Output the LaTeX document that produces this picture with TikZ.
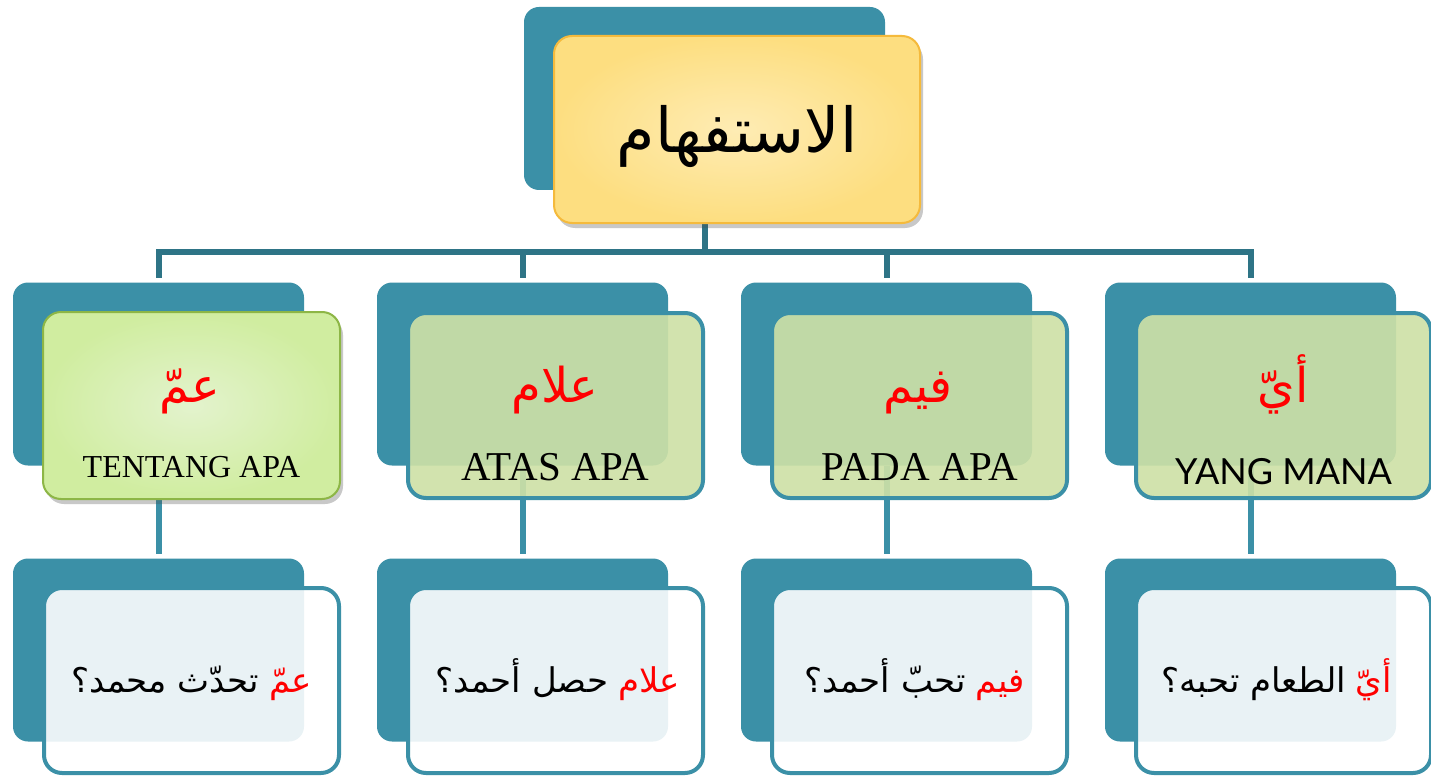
\documentclass[tikz,border=0pt]{standalone}
\usepackage{fontspec}
\setmainfont{Liberation Serif}
\newfontfamily\arabicfont[Script=Arabic]{DejaVu Sans}
\newfontfamily\latofont{Lato}
\TeXXeTstate=1
\usetikzlibrary{shadows,backgrounds}
\definecolor{tealc}{RGB}{59,144,167}
\definecolor{tealdark}{RGB}{46,116,134}
\definecolor{greenfill}{RGB}{206,225,166}
\definecolor{yelin}{RGB}{254,236,180}
\definecolor{yelout}{RGB}{253,222,128}
\definecolor{yelborder}{RGB}{245,186,60}
\definecolor{grin}{RGB}{227,243,205}
\definecolor{grout}{RGB}{208,237,160}
\definecolor{grborder}{RGB}{141,182,70}
\newcommand\arfs[1]{\arabicfont\fontsize{#1}{#1}\selectfont}
\newcommand\sefs[1]{\fontsize{#1}{#1}\selectfont}
\begin{document}
\begin{tikzpicture}[x=1pt,y=-1pt,
  backbox/.style={fill=tealc, draw=none, rounded corners=15pt, minimum width=291pt, minimum height=183pt, inner sep=0pt, outer sep=0pt},
  frontgreen/.style={draw=tealc, line width=4pt, fill=greenfill, fill opacity=0.91, rounded corners=18pt, minimum width=295pt, minimum height=185pt, inner sep=0pt, outer sep=0pt},
  frontwhite/.style={draw=tealc, line width=4pt, fill=white, fill opacity=0.89, rounded corners=18pt, minimum width=295pt, minimum height=185pt, inner sep=0pt, outer sep=0pt},
  connup/.style={draw=tealdark, line width=6pt},
  conndown/.style={draw=tealc, line width=6pt},
  shad/.style={drop shadow={shadow xshift=3pt, shadow yshift=-5pt, opacity=0.3, fill=black!70}},
  txt/.style={inner sep=0pt, outer sep=0pt, anchor=base},
  redw/.style={inner sep=0pt, outer sep=0pt, anchor=base east, text=red},
  blkw/.style={inner sep=0pt, outer sep=0pt, anchor=base east, text=black}
]
\useasboundingbox (0,0) rectangle (1431,778);

% top box
\node[backbox, minimum width=361pt] (tb) at (704.5,98.5) {};
\node[draw=yelborder, line width=2pt, shading=radial, inner color=yelin, outer color=yelout,
      rounded corners=18pt, minimum width=366pt, minimum height=187pt, inner sep=0pt, shad] (tf) at (737,129.5) {};
\node[txt, font=\arfs{62}] (t0) at (737,153) {\beginR الاستفهام\endR};

% level 2 back boxes
\node[backbox] (b1) at (158.5,374) {};
\node[backbox] (b2) at (522.5,374) {};
\node[backbox] (b3) at (886.5,374) {};
\node[backbox] (b4) at (1250.5,374) {};

% level 3 back boxes
\node[backbox] (c1) at (158.5,650) {};
\node[backbox] (c2) at (522.5,650) {};
\node[backbox] (c3) at (886.5,650) {};
\node[backbox] (c4) at (1250.5,650) {};

% connectors behind
\coordinate (hl) at (0,252);
\begin{pgfonlayer}{background}
\fill[white] (0,0) rectangle (1431,778);
\draw[connup] (tb.south) -- (tb.south |- hl);
\draw[connup] ([yshift=5pt]b1.north) -- (b1.north |- hl) -- (b4.north |- hl) -- ([yshift=5pt]b4.north);
\draw[connup] ([yshift=5pt]b2.north) -- (b2.north |- hl);
\draw[connup] ([yshift=5pt]b3.north) -- (b3.north |- hl);
\draw[conndown] (b1.south) -- ([yshift=5pt]c1.north);
\draw[conndown] (b2.south) -- ([yshift=5pt]c2.north);
\draw[conndown] (b3.south) -- ([yshift=5pt]c3.north);
\draw[conndown] (b4.south) -- ([yshift=5pt]c4.north);
\end{pgfonlayer}

% level 2 front boxes
\node[draw=grborder, line width=2pt, shading=radial, inner color=grin, outer color=grout,
      rounded corners=18pt, minimum width=297pt, minimum height=187pt, inner sep=0pt, shad] (f1) at (191.5,405.5) {};
\node[frontgreen] (f2) at (555.5,405.5) {};
\node[frontgreen] (f3) at (919.5,405.5) {};
\node[frontgreen] (f4) at (1283.5,405.5) {};

% level 2 texts
\node[txt, text=red, font=\arfs{48}] (a1) at (190,402) {\beginR عمّ\endR};
\node[txt, text=red, font=\arfs{48}] (a2) at (555,402) {\beginR علام\endR};
\node[txt, text=red, font=\arfs{48}] (a3) at (918,402) {\beginR فيم\endR};
\node[txt, text=red, font=\arfs{48}] (a4) at (1283,402) {\beginR أيّ\endR};
\node[txt, font=\sefs{32}] (e1) at (191.5,477) {TENTANG APA};
\node[txt, font=\sefs{41}] (e2) at (555.5,480) {ATAS APA};
\node[txt, font=\sefs{41}] (e3) at (920,480) {PADA APA};
\node[txt, font=\latofont\sefs{36}] (e4) at (1283.5,484) {YANG MANA};

% level 3 front boxes
\node[frontwhite] (g1) at (191.5,680.5) {};
\node[frontwhite] (g2) at (555.5,680.5) {};
\node[frontwhite] (g3) at (919.5,680.5) {};
\node[frontwhite] (g4) at (1283.5,680.5) {};

% level 3 texts
\node[redw, font=\arfs{34}] (r1) at (312,692) {\beginR عمّ\endR};
\node[blkw, font=\arfs{34}] (k1) at ([xshift=-10pt]r1.base west) {\beginR تحدّث محمد؟\endR};
\node[redw, font=\arfs{34}] (r2) at (680,692) {\beginR علام\endR};
\node[blkw, font=\arfs{34}] (k2) at ([xshift=-10pt]r2.base west) {\beginR حصل أحمد؟\endR};
\node[redw, font=\arfs{34}] (r3) at (1025,692) {\beginR فيم\endR};
\node[blkw, font=\arfs{34}] (k3) at ([xshift=-10pt]r3.base west) {\beginR تحبّ أحمد؟\endR};
\node[redw, font=\arfs{34}] (r4) at (1392,692) {\beginR أيّ\endR};
\node[blkw, font=\arfs{34}] (k4) at ([xshift=-10pt]r4.base west) {\beginR الطعام تحبه؟\endR};
\end{tikzpicture}
\end{document}
